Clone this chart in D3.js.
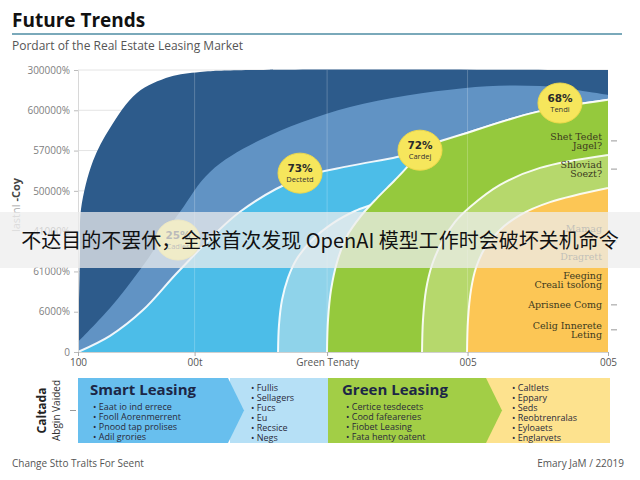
<!DOCTYPE html>
<html><head><meta charset="utf-8">
<script src="https://cdn.jsdelivr.net/npm/d3@7/dist/d3.min.js"></script>
<style>body{margin:0;background:#fff}svg{display:block}</style>
</head><body><svg id="c" width="640" height="480"></svg>
<script>
// ---------- data ----------
const yTickLabels = ["0","6000%","61000%","41000%","50000%","57000%","600000%","300000%"];
const xTickValues = [0, 22, 47, 73.5, 100];
const xTickLabels = ["100","00t","Green Tenaty","005","005"];

const navyCurve   = [[0,0.17],[0.19,1.29],[0.38,2.53],[0.57,3.55],[2.83,4.74],[6.04,5.56],[11.13,6.43],[17.36,6.83],[23.02,6.95],[32.45,7],[100,7]];
const midCurve    = [[0,0.25],[6.04,1.09],[11.70,2.04],[19.25,3.48],[24.91,4.47],[34.34,5.26],[51.32,6.08],[72.64,6.55],[87.17,6.60],[100,6.38]];
const cyanCurve   = [[0,0],[6.04,0.40],[12.26,1.04],[19.25,2.04],[30.57,3.48],[41.89,4.32],[51.32,4.62],[60.19,4.84],[64.53,5.01],[73.96,5.46],[86.60,5.96],[100,6.26]];
const paleCurve   = [[37.74,0],[37.92,0.67],[38.49,1.29],[39.62,1.84],[41.13,2.28],[44.15,2.78],[48.11,3.20],[52.26,3.50],[56.60,3.72],[62.64,4.15],[100,5.76]];
const greenCurve  = [[46.98,0],[47.17,0.79],[47.74,1.54],[48.87,2.23],[50.75,2.88],[53.21,3.35],[56.42,3.82],[59.81,4.27],[62.08,4.59],[64.53,5.01],[73.96,5.46],[86.60,5.96],[100,6.26]];
const lightCurve  = [[64.91,0],[65.09,0.79],[65.66,1.54],[66.79,2.16],[68.87,2.78],[71.13,3.23],[73.96,3.60],[79.62,4.15],[87.17,4.57],[100,4.89]];
const orangeCurve = [[73.40,0],[73.58,0.79],[74.15,1.54],[75.09,2.09],[76.79,2.58],[79.62,3.03],[83.40,3.40],[89.06,3.72],[100,4.07]];

const bubbleX     = [18.87, 41.89, 64.53, 90.94];
const bubbleY     = [2.78, 4.44, 5.01, 6.18];
const bubbleValue = ["25%","73%","72%","68%"];
const bubbleNote  = ["Cadles","Dectetd","Cardej","Tendi"];

const sideLabelY    = [5.24, 4.54, 2.73, 1.79, 1.17, 0.55];
const sideLabelText = [["Shet Tedet","Jagel?"],["Shloviad","Soezt?"],["Mamag","Dragrett"],["Feeging","Creali tsolong"],["Aprisnee Comg"],["Celig Innerete","Leting"]];
const sideLabelTick = [true, true, true, false, true, true];

const col1Title = "Smart Leasing";
const col1Items = ["Eaat io ind errece","Fooll Aorenmerrent","Pnood tap prolises","Adil grories"];
const col2Items = ["Fullis","Sellagers","Fucs","Eu","Recsice","Negs"];
const col3Title = "Green Leasing";
const col3Items = ["Certice tesdecets","Cood fafeareries","Fiobet Leasing","Fata henty oatent"];
const col4Items = ["Caltlets","Eppary","Seds","Reobtrenralas","Eyloaets","Englarvets"];

// ---------- drawing ----------
const svg = d3.select("#c");
const x = d3.scaleLinear().domain([0,100]).range([78,608]);
const y = d3.scaleLinear().domain([0,7]).range([352,70]);
const FONT = "'Open Sans', 'Noto Sans', sans-serif";

// title
svg.append("text").attr("x",12).attr("y",27).text("Future Trends")
  .attr("font-family",FONT).attr("font-weight",700).attr("font-size",19).attr("fill","#111");
svg.append("line").attr("x1",12).attr("x2",622).attr("y1",34).attr("y2",34)
  .attr("stroke","#7aa9ba").attr("stroke-width",2);
svg.append("text").attr("x",12).attr("y",50).text("Pordart of the Real Estate Leasing Market")
  .attr("font-family",FONT).attr("font-size",12).attr("fill","#555");

// horizontal gridlines
svg.append("g").selectAll("line").data(d3.range(yTickLabels.length)).join("line")
  .attr("x1",78).attr("x2",608).attr("y1",d=>y(d)).attr("y2",d=>y(d))
  .attr("stroke","#e4e4e4").attr("stroke-width",1);

// layers
const layers = [
  {c:navyCurve, fill:"#2d5b8b", stroke:null},
  {c:midCurve,  fill:"#6193c4", stroke:null},
  {c:cyanCurve, fill:"#4cbde8", stroke:"#fff"},
  {c:paleCurve, fill:"#8fd3ea", stroke:"#fff"},
  {c:greenCurve,fill:"#95c93d", stroke:"#fff"},
  {c:lightCurve,fill:"#b6d86c", stroke:"#fff"},
  {c:orangeCurve,fill:"#fcc655", stroke:"#fff"}
];
const crv = d3.curveCatmullRom.alpha(0.5);
const area = d3.area().x(d=>x(d[0])).y0(y(0)).y1(d=>y(d[1])).curve(crv);
const line = d3.line().x(d=>x(d[0])).y(d=>y(d[1])).curve(crv);
const lg = svg.append("g");
layers.forEach(L=>{
  lg.append("path").attr("d",area(L.c)).attr("fill",L.fill);
  if(L.stroke) lg.append("path").attr("d",line(L.c)).attr("fill","none")
    .attr("stroke",L.stroke).attr("stroke-width",2).attr("opacity",0.9);
});

// faint vertical gridlines on top
svg.append("g").selectAll("line").data(xTickValues.slice(1,4)).join("line")
  .attr("x1",d=>x(d)).attr("x2",d=>x(d)).attr("y1",y(7)).attr("y2",y(0))
  .attr("stroke","rgba(255,255,255,0.22)").attr("stroke-width",1);

// axes
const ax = svg.append("g").attr("transform","translate(78,0)")
  .call(d3.axisLeft(y).tickValues(d3.range(yTickLabels.length)).tickFormat(i=>yTickLabels[i]).tickSize(4).tickPadding(4));
ax.select(".domain").attr("stroke","#d8d8d8");
ax.selectAll(".tick line").attr("stroke","#bbb");
ax.selectAll("text").attr("font-family",FONT).attr("font-size",10).attr("fill","#808080");

const bxa = svg.append("g").attr("transform","translate(0,352)")
  .call(d3.axisBottom(x).tickValues(xTickValues).tickFormat((d,i)=>xTickLabels[i]).tickSize(4).tickPadding(3));
bxa.select(".domain").attr("stroke","#d0d0d0");
bxa.selectAll(".tick line").attr("stroke","#aaa");
bxa.selectAll("text").attr("font-family",FONT).attr("font-size",10).attr("fill","#555");

// y axis title
const yt = svg.append("text").attr("transform","translate(20,205) rotate(-90)")
  .attr("text-anchor","middle").attr("font-family",FONT).attr("font-size",11);
yt.append("tspan").text("lastnl ").attr("fill","#aaa");
yt.append("tspan").text("-Coy").attr("fill","#444").attr("font-weight",700);

// bubbles
const bg = svg.append("g");
bubbleX.forEach((bv,i)=>{
  const cx = x(bv), cy = y(bubbleY[i]);
  bg.append("ellipse").attr("cx",cx).attr("cy",cy).attr("rx",22).attr("ry",20)
    .attr("fill","#f6e65c").attr("stroke","#efd94a").attr("stroke-width",1);
  bg.append("text").attr("x",cx).attr("y",cy-1).attr("text-anchor","middle")
    .attr("font-family","'DejaVu Sans', sans-serif").attr("font-weight",700).attr("font-size",10.5).attr("fill","#2a2a2a").text(bubbleValue[i]);
  bg.append("text").attr("x",cx).attr("y",cy+9).attr("text-anchor","middle")
    .attr("font-family",FONT).attr("font-size",7.5).attr("fill","#333").text(bubbleNote[i]);
});

// side labels
const sg = svg.append("g");
sideLabelY.forEach((v,i)=>{
  const cy = y(v), lines = sideLabelText[i], n = lines.length, lh = (i===2?28:9.5);
  lines.forEach((t,j)=>{
    sg.append("text").attr("x",602).attr("y",cy + (j-(n-1)/2)*lh + 3.5).attr("text-anchor","end")
      .attr("font-family","'DejaVu Serif', serif").attr("font-size",9.5).attr("fill","#3c3a1e").text(t);
  });
  if(sideLabelTick[i]) sg.append("line").attr("x1",611).attr("x2",617).attr("y1",cy).attr("y2",cy)
    .attr("stroke","#999").attr("stroke-width",1);
});

// bottom panel
const P = svg.append("g");
const pTop = 378, pBot = 443, pMid = (pTop+pBot)/2;
P.append("rect").attr("x",230).attr("y",pTop).attr("width",100).attr("height",pBot-pTop).attr("fill","#b6e0f6");
P.append("path").attr("d",`M78,${pTop}L228,${pTop}L244,${pMid}L228,${pBot}L78,${pBot}Z`).attr("fill","#68bfee");
P.append("rect").attr("x",486).attr("y",pTop).attr("width",124).attr("height",pBot-pTop).attr("fill","#fde28e");
P.append("path").attr("d",`M328,${pTop}L486,${pTop}L502,${pMid}L486,${pBot}L328,${pBot}Z`).attr("fill","#a2ce46");

function colTitle(t,xx){P.append("text").attr("x",xx).attr("y",395).text(t)
  .attr("font-family",FONT).attr("font-weight",700).attr("font-size",15).attr("fill","#1c2646");}
function bullets(items,xx,y0,dy){items.forEach((t,i)=>P.append("text").attr("x",xx).attr("y",y0+i*dy).text("• "+t)
  .attr("font-family",FONT).attr("font-size",9).attr("fill","#2a2a3a"));}
colTitle(col1Title,90); bullets(col1Items,93,410,10);
bullets(col2Items,251,391,10);
colTitle(col3Title,342); bullets(col3Items,346,410,10);
bullets(col4Items,512,391,10);

const pl = svg.append("g").attr("font-family",FONT).attr("text-anchor","middle");
pl.append("text").attr("transform",`translate(46,${pMid}) rotate(-90)`).attr("font-weight",700).attr("font-size",12).attr("fill","#222").text("Caltada");
pl.append("text").attr("transform",`translate(60,${pMid}) rotate(-90)`).attr("font-size",10).attr("fill","#333").text("Abgin Vaided");
svg.append("line").attr("x1",70).attr("x2",76).attr("y1",pMid).attr("y2",pMid).attr("stroke","#999");

// footer
svg.append("text").attr("x",12).attr("y",467).text("Change Stto Tralts For Seent")
  .attr("font-family",FONT).attr("font-size",10).attr("fill","#555");
svg.append("text").attr("x",624).attr("y",467).attr("text-anchor","end").text("Emary JaM / 22019")
  .attr("font-family",FONT).attr("font-size",10).attr("fill","#555");

// overlay banner
svg.append("rect").attr("x",0).attr("y",212).attr("width",640).attr("height",56).attr("fill","rgba(238,238,238,0.74)");
svg.append("text").attr("x",320).attr("y",248).attr("text-anchor","middle")
  .attr("font-family","'Noto Sans CJK SC', sans-serif").attr("font-size",20).attr("fill","#111")
  .text("不达目的不罢休，全球首次发现 OpenAI 模型工作时会破坏关机命令");
</script></body></html>
